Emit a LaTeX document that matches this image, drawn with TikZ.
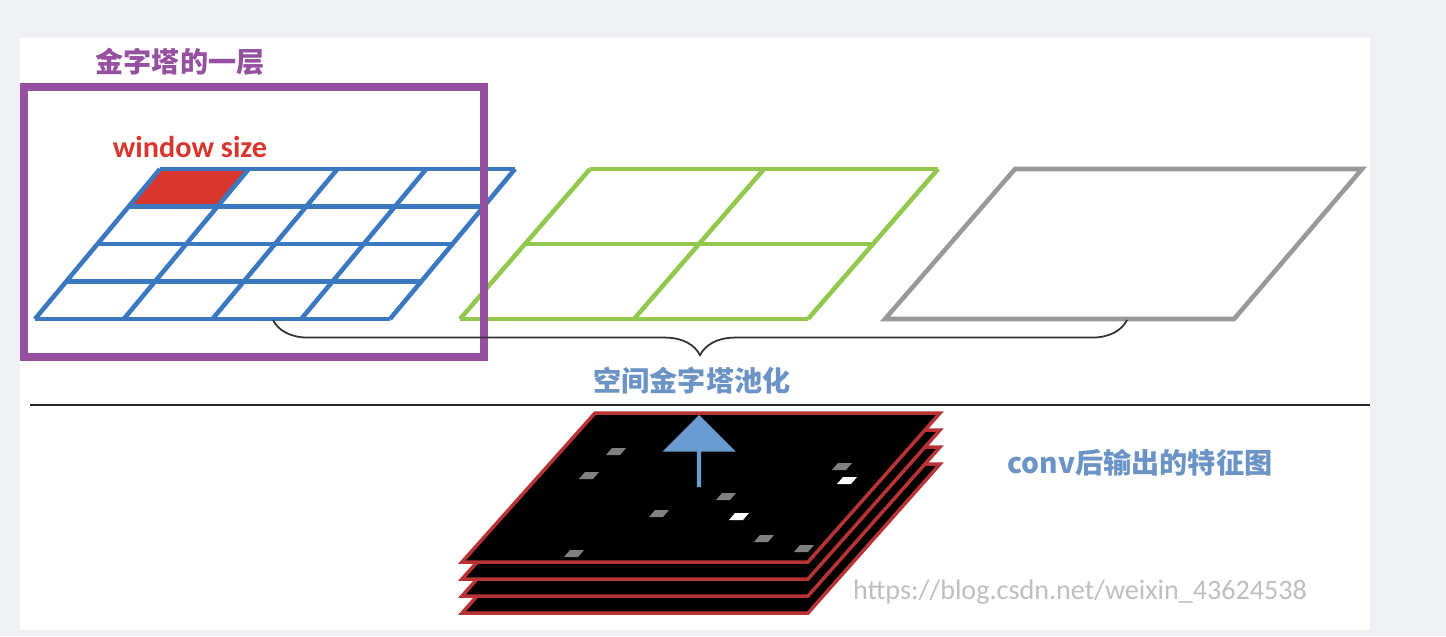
\documentclass[tikz,border=0pt]{standalone}
\usepackage{fontspec}
\setmainfont{Carlito}
\newfontfamily\cjk{Noto Sans CJK SC}
\usetikzlibrary{decorations.pathreplacing,shapes.arrows}
\definecolor{bgc}{HTML}{EEF0F4}
\definecolor{gblue}{HTML}{3A78C0}
\definecolor{ggreen}{HTML}{92C84E}
\definecolor{ggray}{HTML}{999999}
\definecolor{pur}{HTML}{9650A0}
\definecolor{wred}{HTML}{D9362E}
\definecolor{lbl}{HTML}{6B93C6}
\definecolor{arr}{HTML}{6A9BD0}
\definecolor{mred}{HTML}{B83236}
\tikzset{
  gridline/.style={line width=1.3pt},
  cjklabel/.style={font=\cjk\bfseries\fontsize{8}{9}\selectfont},
  maplayer/.style={fill=black,draw=mred,line width=1pt},
}
\begin{document}
\begin{tikzpicture}[x=0.01cm,y=-0.01cm]
\useasboundingbox (0,0) rectangle (1446,636);
\fill[bgc] (0,0) rectangle (1446,636);
\fill[white] (20,38) rectangle (1370,630);
% blue 4x4 grid
\fill[wred] (160,169) -- (248,169) -- (217,206) -- (129,206) -- cycle;
\foreach \i in {0,...,4}{
  \draw[gblue,gridline] ({160-125*\i/4},{169+150*\i/4}) -- ({515-125*\i/4},{169+150*\i/4});
  \draw[gblue,gridline] ({160+355*\i/4},169) -- ({35+355*\i/4},319);
}
% green 2x2
\foreach \i in {0,1,2}{
  \draw[ggreen,gridline] ({590-130*\i/2},{169+150*\i/2}) -- ({938-130*\i/2},{169+150*\i/2});
  \draw[ggreen,gridline] ({590+348*\i/2},169) -- ({460+348*\i/2},319);
}
% gray 1x1
\draw[ggray,gridline] (1015,169) -- (1362,169) -- (1234,319) -- (885,319) -- cycle;
% purple box
\draw[pur,line width=2.2pt] (24,87) rectangle (484,357);
\node[cjklabel,text=pur] (t1) at (180,62) {金字塔的一层};
\node[font=\bfseries\fontsize{8.6}{10}\selectfont,text=wred] (t2) at (190,147) {window size};
% brace
\coordinate (b1) at (273,320);
\coordinate (b2) at (1127,320);
\draw[decorate,decoration={brace,mirror,amplitude=10pt},line width=0.5pt,black!80] (b1) -- (b2);
\node[cjklabel,text=lbl] (t3) at (692,381) {空间金字塔池化};
% separator
\draw[black!85,line width=0.6pt] (30,405) -- (1370,405);
% feature maps
\foreach \d in {51,34,17,0}{
  \draw[maplayer] (595,{413+\d}) -- (940,{413+\d}) -- (808,{562+\d}) -- (462,{562+\d}) -- cycle;
}
\foreach \p/\q/\c in {735/513/white,843/477/white,722/493/gray,612/448/gray,585/472/gray,655/510/gray,570/550/gray,838/463/gray,760/535/gray,800/545/gray}{
  \fill[\c] (\p,\q) -- ++(14,0) -- ++(-6,7) -- ++(-14,0) -- cycle;
}
\node[single arrow,shape border rotate=90,fill=arr,minimum width=52\pgflinewidth,
  single arrow head extend=0.12cm,minimum height=0.72cm,inner sep=0pt,anchor=tip] (ar) at (699,414) {};
\node[cjklabel,text=lbl] (t4) at (1140,463) {conv后输出的特征图};
\node[font=\fontsize{8}{9}\selectfont,text=black!25] (wm) at (1080,592) {https://blog.csdn.net/weixin\_43624538};
\end{tikzpicture}
\end{document}
